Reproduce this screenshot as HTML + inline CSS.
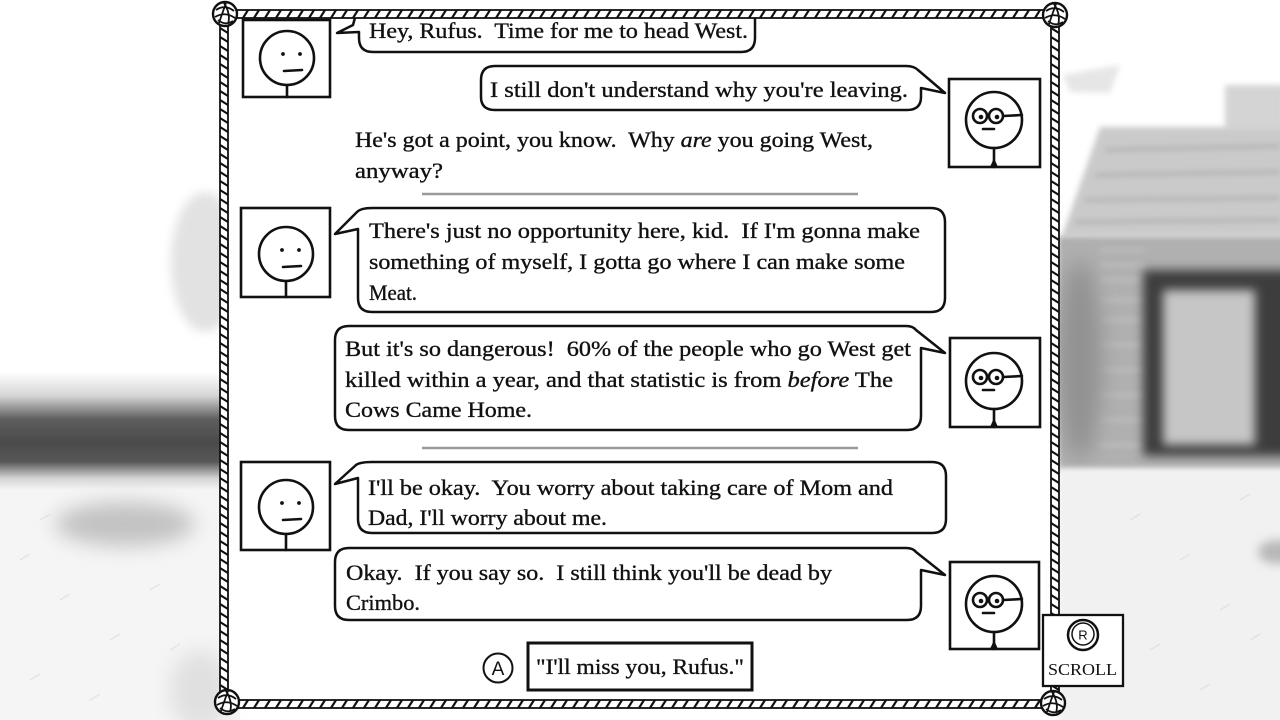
<!DOCTYPE html>
<html>
<head>
<meta charset="utf-8">
<style>
html,body{margin:0;padding:0;background:#fff;}
body{width:1280px;height:720px;overflow:hidden;}
svg{display:block;}
.t{font-family:"Liberation Serif",serif;font-size:22px;fill:#111;stroke:#111;stroke-width:0.35;white-space:pre;}
.i{font-style:italic;}
</style>
</head>
<body>
<svg width="1280" height="720" viewBox="0 0 1280 720" xmlns="http://www.w3.org/2000/svg">
<defs>
  <filter id="b10" x="-50%" y="-50%" width="200%" height="200%"><feGaussianBlur stdDeviation="10"/></filter>
  <filter id="b5" x="-50%" y="-50%" width="200%" height="200%"><feGaussianBlur stdDeviation="5"/></filter>
  <filter id="b3" x="-50%" y="-50%" width="200%" height="200%"><feGaussianBlur stdDeviation="3"/></filter>
  <linearGradient id="band" gradientUnits="userSpaceOnUse" x1="0" y1="372" x2="0" y2="490">
    <stop offset="0" stop-color="#ffffff"/>
    <stop offset="0.2" stop-color="#d6d6d6"/>
    <stop offset="0.4" stop-color="#5e5e5e"/>
    <stop offset="0.6" stop-color="#4a4a4a"/>
    <stop offset="0.76" stop-color="#575757"/>
    <stop offset="0.9" stop-color="#d4d4d4"/>
    <stop offset="1" stop-color="#f5f5f5"/>
  </linearGradient>
  <pattern id="rh1" patternUnits="userSpaceOnUse" x="0" y="10" width="11" height="8">
    <rect width="11" height="8" fill="#fff"/>
    <path d="M1,8 L6,0" stroke="#111" stroke-width="2.2"/>
  </pattern>
  <pattern id="rh2" patternUnits="userSpaceOnUse" x="0" y="700" width="11" height="8">
    <rect width="11" height="8" fill="#fff"/>
    <path d="M1,8 L6,0" stroke="#111" stroke-width="2.2"/>
  </pattern>
  <pattern id="rv1" patternUnits="userSpaceOnUse" x="220" y="0" width="8" height="9">
    <rect width="8" height="9" fill="#fff"/>
    <path d="M0,1 L8,6" stroke="#111" stroke-width="2.2"/>
  </pattern>
  <pattern id="rv2" patternUnits="userSpaceOnUse" x="1051" y="0" width="8" height="9">
    <rect width="8" height="9" fill="#fff"/>
    <path d="M0,1 L8,6" stroke="#111" stroke-width="2.2"/>
  </pattern>
  <g id="knot">
    <circle r="12" fill="#fff" stroke="#111" stroke-width="2.4"/>
    <path d="M-9,-4 Q0,-10 9,-3 M-10,3 Q0,-3 10,4 M-6,9 Q-3,0 1,-11 M3,10 Q6,0 -1,-11 M-7,6 Q0,12 8,7" fill="none" stroke="#111" stroke-width="1.8"/>
  </g>
</defs>

<!-- background -->
<rect width="1280" height="720" fill="#fff"/>
<!-- left side -->
<ellipse cx="205" cy="262" rx="34" ry="70" fill="#e2e2e2" filter="url(#b5)"/>
<rect x="0" y="372" width="240" height="118" fill="url(#band)"/>
<rect x="0" y="490" width="240" height="230" fill="#f5f5f5"/>
<ellipse cx="125" cy="524" rx="70" ry="22" fill="#c2c2c2" filter="url(#b10)"/>
<ellipse cx="200" cy="690" rx="30" ry="40" fill="#e0e0e0" filter="url(#b10)"/>
<g stroke="#e4e4e4" stroke-width="1.5">
  <path d="M20,560 l10,-6 M60,600 l10,-6 M110,640 l10,-6 M30,680 l10,-6 M150,590 l10,-6 M90,700 l10,-6 M170,650 l10,-6 M40,520 l10,-6"/>
</g>
<!-- right side -->
<path d="M1063,75 L1120,65 L1110,93 L1070,92 Z" fill="#e6e6e6" filter="url(#b3)"/>
<rect x="1225" y="85" width="60" height="45" fill="#d4d4d4" filter="url(#b3)"/>
<path d="M1100,127 L1290,127 L1290,236 L1062,236 Z" fill="#cacaca" filter="url(#b3)"/>
<g stroke="#a8a8a8" stroke-width="2.5" filter="url(#b3)" fill="none">
  <path d="M1105,150 L1280,146 M1095,175 L1280,172 M1085,200 L1280,198 M1075,222 L1280,220"/>
</g>
<rect x="1058" y="236" width="230" height="236" fill="#b0b0b0" filter="url(#b3)"/>
<g stroke="#c8c8c8" stroke-width="2" filter="url(#b3)">
  <path d="M1100,250 H1145 M1100,265 H1145 M1100,280 H1145 M1100,300 H1145 M1100,320 H1145 M1100,345 H1145 M1100,370 H1145 M1100,395 H1145 M1100,420 H1145 M1100,445 H1145"/>
</g>
<ellipse cx="1080" cy="360" rx="22" ry="100" fill="#929292" filter="url(#b10)"/>
<rect x="1143" y="270" width="150" height="186" fill="#3c3c3c" filter="url(#b5)"/>
<rect x="1163" y="290" width="92" height="155" fill="#c6c6c6" filter="url(#b5)"/>
<rect x="1058" y="468" width="230" height="260" fill="#f1f1f1" filter="url(#b3)"/>
<ellipse cx="1278" cy="552" rx="20" ry="12" fill="#b8b8b8" filter="url(#b5)"/>
<g stroke="#e2e2e2" stroke-width="1.5">
  <path d="M1130,520 l10,-6 M1180,560 l10,-6 M1220,610 l10,-6 M1150,650 l10,-6 M1200,690 l10,-6 M1250,640 l10,-6 M1240,500 l10,-6"/>
</g>

<!-- panel -->
<rect x="224" y="14" width="831" height="690" fill="#fff"/>

<!-- bubbles -->
<g fill="#fff" stroke="#111" stroke-width="2.5" stroke-linejoin="round">
  <path d="M359,14 H755 V38 Q755,52 741,52 H373 Q359,52 359,38 V32 L337,33 L353,25 L356,14 Z"/>
  <path d="M495,66 H906 Q914,66 918,70 L945,93 L921,88 V97 Q921,110 907,110 H495 Q481,110 481,97 V80 Q481,66 495,66 Z"/>
  <path d="M372,208 H931 Q945,208 945,222 V298 Q945,312 931,312 H372 Q358,312 358,298 V229 L335,234 L357,212 Q361,208 372,208 Z"/>
  <path d="M349,326 H906 Q913,326 916,330 L945,353 L921,348 V416 Q921,430 907,430 H349 Q335,430 335,416 V340 Q335,326 349,326 Z"/>
  <path d="M372,462 H932 Q946,462 946,476 V519 Q946,533 932,533 H372 Q358,533 358,519 V478 L335,484 L356,465 Q360,462 372,462 Z"/>
  <path d="M349,548 H906 Q913,548 916,552 L945,575 L921,570 V606 Q921,620 907,620 H349 Q335,620 335,606 V562 Q335,548 349,548 Z"/>
</g>

<!-- dividers -->
<line x1="422" y1="194" x2="858" y2="194" stroke="#9a9a9a" stroke-width="2.5"/>
<line x1="422" y1="448" x2="858" y2="448" stroke="#9a9a9a" stroke-width="2.5"/>

<!-- text -->
<text class="t" x="369" y="38" textLength="379" lengthAdjust="spacingAndGlyphs">Hey, Rufus.  Time for me to head West.</text>
<text class="t" x="490" y="97" textLength="418" lengthAdjust="spacingAndGlyphs">I still don't understand why you're leaving.</text>
<text class="t" x="355" y="147" textLength="518" lengthAdjust="spacingAndGlyphs">He's got a point, you know.  Why <tspan class="i">are</tspan> you going West,</text>
<text class="t" x="355" y="178" textLength="88" lengthAdjust="spacingAndGlyphs">anyway?</text>
<text class="t" x="369" y="238" textLength="551" lengthAdjust="spacingAndGlyphs">There's just no opportunity here, kid.  If I'm gonna make</text>
<text class="t" x="369" y="269" textLength="536" lengthAdjust="spacingAndGlyphs">something of myself, I gotta go where I can make some</text>
<text class="t" x="369" y="300" textLength="48" lengthAdjust="spacingAndGlyphs">Meat.</text>
<text class="t" x="345" y="356" textLength="566" lengthAdjust="spacingAndGlyphs">But it's so dangerous!  60% of the people who go West get</text>
<text class="t" x="345" y="387" textLength="548" lengthAdjust="spacingAndGlyphs">killed within a year, and that statistic is from <tspan class="i">before</tspan> The</text>
<text class="t" x="345" y="417" textLength="187" lengthAdjust="spacingAndGlyphs">Cows Came Home.</text>
<text class="t" x="368" y="495" textLength="525" lengthAdjust="spacingAndGlyphs">I'll be okay.  You worry about taking care of Mom and</text>
<text class="t" x="368" y="525" textLength="239" lengthAdjust="spacingAndGlyphs">Dad, I'll worry about me.</text>
<text class="t" x="346" y="580" textLength="486" lengthAdjust="spacingAndGlyphs">Okay.  If you say so.  I still think you'll be dead by</text>
<text class="t" x="346" y="610" textLength="74" lengthAdjust="spacingAndGlyphs">Crimbo.</text>

<!-- portraits -->
<g fill="#fff" stroke="#111" stroke-width="2.6">
  <rect x="243" y="20" width="87" height="77"/>
  <rect x="241" y="208" width="89" height="89"/>
  <rect x="241" y="462" width="89" height="88"/>
  <rect x="949" y="79" width="91" height="88"/>
  <rect x="950" y="338" width="90" height="89"/>
  <rect x="950" y="562" width="89" height="87"/>
</g>
<g fill="none" stroke="#111" stroke-width="2.6" stroke-linecap="round">
  <circle cx="287" cy="58" r="27"/>
  <path d="M284,71 L302,70 M287,85 V97"/>
  <circle cx="286" cy="254" r="27"/>
  <path d="M283,267 L301,266 M286,281 V297"/>
  <circle cx="286" cy="507" r="27"/>
  <path d="M283,520 L301,519 M286,534 V550"/>
</g>
<g fill="#111">
  <circle cx="283" cy="54" r="1.9"/><circle cx="300" cy="54" r="1.9"/>
  <circle cx="282" cy="250" r="1.9"/><circle cx="299" cy="250" r="1.9"/>
  <circle cx="282" cy="503" r="1.9"/><circle cx="299" cy="503" r="1.9"/>
</g>
<g fill="none" stroke="#111" stroke-width="2.6" stroke-linecap="round">
  <circle cx="994" cy="120" r="28"/>
  <circle cx="980" cy="116" r="7"/><circle cx="996" cy="116" r="7"/>
  <path d="M1003,116 L1022,115 M983,129 L994,129 M994,148 V167"/>
  <circle cx="994" cy="381" r="28"/>
  <circle cx="980" cy="377" r="7"/><circle cx="996" cy="377" r="7"/>
  <path d="M1003,377 L1022,376 M983,390 L994,390 M994,409 V427"/>
  <circle cx="994" cy="604" r="28"/>
  <circle cx="980" cy="600" r="7"/><circle cx="996" cy="600" r="7"/>
  <path d="M1003,600 L1022,599 M983,613 L994,613 M994,632 V649"/>
</g>
<g fill="#111">
  <circle cx="981" cy="117" r="2.3"/><circle cx="997" cy="117" r="2.3"/>
  <path d="M990,167 L994,158 L998,167 Z"/>
  <circle cx="981" cy="378" r="2.3"/><circle cx="997" cy="378" r="2.3"/>
  <path d="M990,427 L994,418 L998,427 Z"/>
  <circle cx="981" cy="601" r="2.3"/><circle cx="997" cy="601" r="2.3"/>
  <path d="M990,649 L994,640 L998,649 Z"/>
</g>

<!-- ropes -->
<rect x="224" y="10" width="831" height="8" fill="url(#rh1)" stroke="#111" stroke-width="1.8"/>
<rect x="226" y="700" width="827" height="8" fill="url(#rh2)" stroke="#111" stroke-width="1.8"/>
<rect x="220" y="14" width="8" height="688" fill="url(#rv1)" stroke="#111" stroke-width="1.8"/>
<rect x="1051" y="15" width="8" height="687" fill="url(#rv2)" stroke="#111" stroke-width="1.8"/>
<use href="#knot" x="225" y="14"/>
<use href="#knot" x="1055" y="15"/>
<use href="#knot" x="227" y="702"/>
<use href="#knot" x="1053" y="703"/>

<!-- answer -->
<circle cx="498" cy="668" r="14.5" fill="#fff" stroke="#111" stroke-width="2"/>
<text x="498" y="675" text-anchor="middle" font-family="Liberation Sans, sans-serif" font-size="19" fill="#111">A</text>
<rect x="528" y="643" width="224" height="47" fill="#fff" stroke="#111" stroke-width="3"/>
<text class="t" x="536" y="674" textLength="208" lengthAdjust="spacingAndGlyphs">"I'll miss you, Rufus."</text>

<!-- scroll -->
<rect x="1043" y="615" width="80" height="71" fill="#fff" stroke="#111" stroke-width="2.3"/>
<circle cx="1083" cy="635" r="15" fill="#fff" stroke="#111" stroke-width="2.5"/>
<circle cx="1083" cy="634" r="11" fill="#fff" stroke="#111" stroke-width="1.5"/>
<text x="1083" y="639.5" text-anchor="middle" font-family="Liberation Sans, sans-serif" font-size="13" fill="#111">R</text>
<text x="1048" y="675" textLength="69" lengthAdjust="spacingAndGlyphs" font-family="Liberation Serif, serif" font-size="17" fill="#111">SCROLL</text>
</svg>
</body>
</html>
